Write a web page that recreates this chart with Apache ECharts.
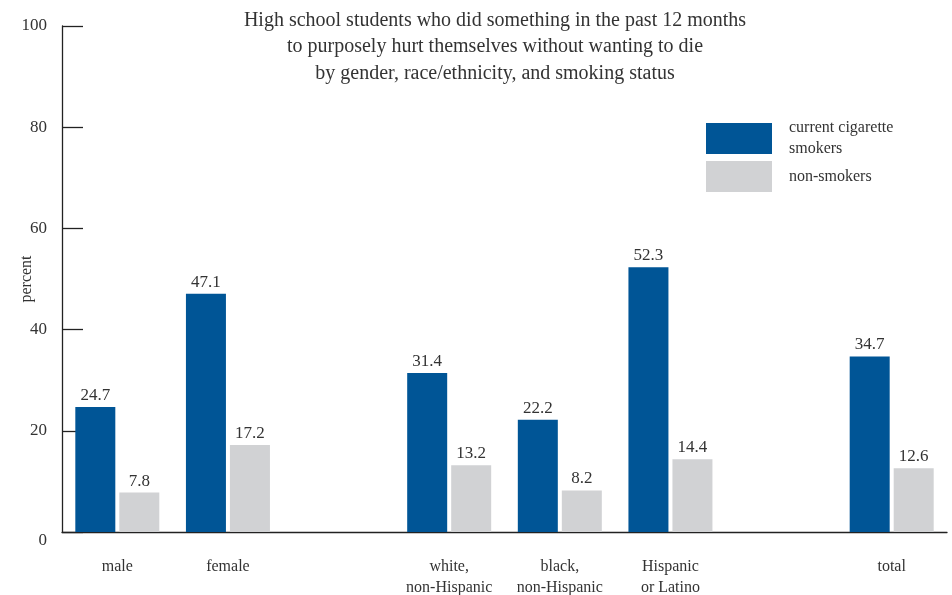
<!DOCTYPE html>
<html>
<head>
<meta charset="utf-8">
<script src="https://cdn.jsdelivr.net/npm/echarts@6/dist/echarts.min.js"></script>
<style>html,body{margin:0;padding:0;background:#fff}#c{width:952px;height:595px}</style>
</head>
<body>
<div id="c"></div>
<script>
const categories = ['male', 'female', '', 'white,\nnon-Hispanic', 'black,\nnon-Hispanic', 'Hispanic\nor Latino', '', 'total'];
const smokers = [24.7, 47.1, null, 31.4, 22.2, 52.3, null, 34.7];
const nonSmokers = [7.8, 17.2, null, 13.2, 8.2, 14.4, null, 12.6];
const yTicks = [0, 20, 40, 60, 80, 100];
const titleText = 'High school students who did something in the past 12 months\nto purposely hurt themselves without wanting to die\nby gender, race/ethnicity, and smoking status';

const FONT = '"Liberation Serif", "DejaVu Serif", serif';
const TXT = '#333';
const chart = echarts.init(document.getElementById('c'), null, {renderer: 'canvas'});
chart.setOption({
  backgroundColor: '#fff',
  animation: false,
  textStyle: {fontFamily: FONT, color: TXT},
  title: {
    text: titleText,
    left: 490, top: 2, textAlign: 'center',
    textStyle: {fontFamily: FONT, fontSize: 20, fontWeight: 'normal', color: TXT, lineHeight: 26.5}
  },
  legend: {
    orient: 'vertical', left: 706, top: 117.5, padding: 0, itemWidth: 66, itemHeight: 31, itemGap: 1.5,
    icon: 'rect',
    formatter: n => n === 'current cigarette smokers' ? 'current cigarette\nsmokers' : n,
    textStyle: {fontFamily: FONT, fontSize: 16, color: TXT, lineHeight: 21, padding: [0, 0, 0, 12]}
  },
  grid: {left: 62, right: 5, top: 26, bottom: 63, outerBoundsMode: 'none', containLabel: false},
  xAxis: {
    type: 'category', data: categories,
    axisLine: {show: true, lineStyle: {color: '#222', width: 1.3}},
    axisTick: {show: false},
    axisLabel: {fontFamily: FONT, fontSize: 16, color: TXT, margin: 24, lineHeight: 21, interval: 0}
  },
  yAxis: {
    type: 'value', min: 0, max: 100, interval: 20,
    name: 'percent', nameLocation: 'middle', nameGap: 27, nameRotate: 90, nameMoveOverlap: false,
    nameTextStyle: {fontFamily: FONT, fontSize: 16, color: TXT},
    axisLine: {show: true, lineStyle: {color: '#222', width: 1.3}},
    axisTick: {show: true, inside: true, length: 21, lineStyle: {color: '#222', width: 1.3}},
    splitLine: {show: false},
    axisLabel: {
      fontFamily: FONT, fontSize: 17, color: TXT, margin: 15,
      formatter: v => (yTicks.includes(v) ? (v === 0 ? '{z|0}' : String(v)) : ''),
      rich: {z: {fontFamily: FONT, fontSize: 17, color: TXT, padding: [18, 0, 0, 0]}}
    }
  },
  series: [
    {
      name: 'current cigarette smokers', type: 'bar', data: smokers,
      barWidth: 40, barGap: '10%',
      itemStyle: {color: '#005596'},
      label: {show: true, position: 'top', distance: 3, fontFamily: FONT, fontSize: 17, color: TXT, formatter: p => p.value.toFixed(1)}
    },
    {
      name: 'non-smokers', type: 'bar', data: nonSmokers,
      barWidth: 40,
      itemStyle: {color: '#D1D2D4'},
      label: {show: true, position: 'top', distance: 3, fontFamily: FONT, fontSize: 17, color: TXT, formatter: p => p.value.toFixed(1)}
    }
  ]
});
</script>
</body>
</html>
